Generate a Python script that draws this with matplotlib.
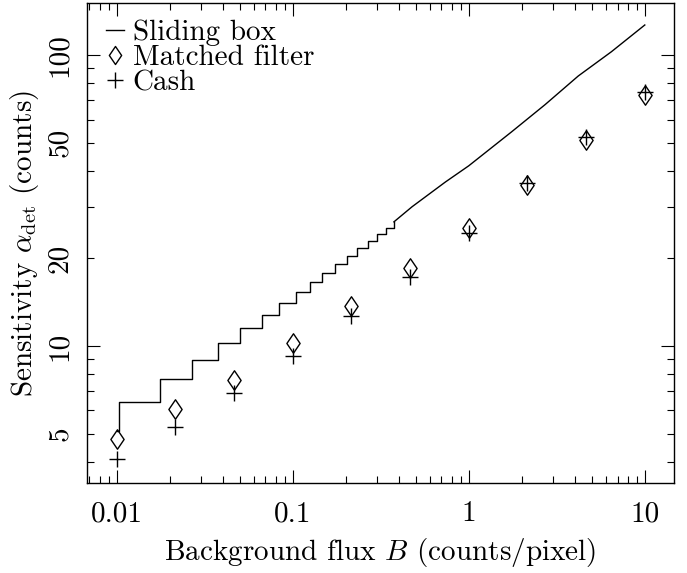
import matplotlib
matplotlib.use("Agg")
import matplotlib.pyplot as plt
from matplotlib.lines import Line2D
from matplotlib.path import Path

plt.rcParams['font.family'] = ['cmr10', 'DejaVu Serif']
plt.rcParams['mathtext.fontset'] = 'cm'
plt.rcParams['axes.formatter.use_mathtext'] = True

# background flux per pixel at which the two methods were evaluated
flux = [0.01, 0.0215, 0.0464, 0.1, 0.215, 0.464, 1.0, 2.15, 4.64, 10.0]
matched = [4.78, 6.07, 7.66, 10.25, 13.7, 18.5, 25.5, 35.6, 51.0, 72.8]
cash = [4.09, 5.28, 6.91, 9.24, 12.65, 17.3, 24.4, 36.2, 52.4, 74.8]

# sliding box threshold: step corners (step starts at box_b, holds box_level)
box_b = [0.01, 0.0103, 0.01775, 0.0269, 0.0379, 0.0505, 0.067, 0.0839,
         0.1044, 0.1262, 0.1476, 0.1735, 0.2028, 0.2328, 0.2677, 0.302,
         0.337, 0.376]
box_level = [5.1, 6.41, 7.68, 8.95, 10.2, 11.5, 12.8, 14.05, 15.33, 16.63,
             17.86, 19.13, 20.39, 21.66, 23.0, 24.2, 25.5, 26.7]
# above ~0.4 the steps get tiny, read as a line
box_b_hi = [0.376, 0.477, 0.737, 1.0, 1.756, 2.713, 4.19, 6.46, 10.0]
box_hi = [26.7, 30.1, 36.6, 41.6, 54.5, 67.5, 84.7, 102.6, 126.8]

xticks = [0.01, 0.1, 1, 10]
xticklabels = ['0.01', '0.1', '1', '10']
yticks = [10, 100]
yticklabels = ['10', '100']
yminor = [4, 5, 6, 7, 8, 9, 20, 30, 40, 50, 60, 70, 80, 90]
yminorlabels = ['', '5', '', '', '', '', '20', '', '', '50', '', '', '', '']

fs = 21

diamond = Path([(0, -1), (0.68, 0), (0, 1), (-0.68, 0), (0, -1)],
               [Path.MOVETO, Path.LINETO, Path.LINETO, Path.LINETO, Path.CLOSEPOLY])

fig = plt.figure(figsize=(6.87, 5.73), dpi=100)
ax = fig.add_axes([87 / 687, 90 / 573, 587 / 687, 480 / 573])

ax.plot(box_b, box_level, drawstyle='steps-post', color='black', lw=1.0)
ax.plot(box_b_hi, box_hi, color='black', lw=1.0)
ax.plot(flux, matched, linestyle='none', marker=diamond, markersize=14,
        mfc='none', mec='black', mew=1.0)
ax.plot(flux, cash, linestyle='none', marker='+', markersize=12,
        color='black', mew=1.0)

ax.set_xscale('log')
ax.set_yscale('log')
ax.set_xlim(0.00679, 14.65)
ax.set_ylim(3.38, 150.9)

ax.set_xticks(xticks, labels=xticklabels)
ax.set_yticks(yticks, labels=yticklabels)
ax.set_yticks(yminor, labels=yminorlabels, minor=True)

ax.tick_params(which='both', direction='in', top=True, right=True, width=0.8,
               labelsize=fs)
ax.tick_params(which='major', length=9.5)
ax.tick_params(which='minor', length=5)
ax.tick_params(axis='x', which='both', pad=13)
ax.tick_params(axis='y', which='both', pad=10, labelrotation=90)
for lab in ax.get_yticklabels(which='both'):
    lab.set_va('center')
for sp in ax.spines.values():
    sp.set_linewidth(1.0)

ax.set_xlabel(r'Background flux $B$ (counts/pixel)', fontsize=fs)
ax.set_ylabel(r'Sensitivity $\alpha_{\rm det}$ (counts)', fontsize=fs)
ax.xaxis.set_label_coords(0.5, -0.11)
ax.yaxis.set_label_coords(-0.078, 0.5)

handles = [
    Line2D([], [], color='black', lw=1.0),
    Line2D([], [], linestyle='none', marker=diamond, markersize=13,
           mfc='none', mec='black', mew=1.0),
    Line2D([], [], linestyle='none', marker='+', markersize=11,
           color='black', mew=1.0),
]
ax.legend(handles, ['Sliding box', 'Matched filter', 'Cash'],
          loc='upper left', bbox_to_anchor=(0.033, 0.965), frameon=False,
          fontsize=fs, handlelength=0.6, handletextpad=0.3,
          labelspacing=-0.05, borderaxespad=0, borderpad=0)

fig.savefig('out.png', dpi=100)
